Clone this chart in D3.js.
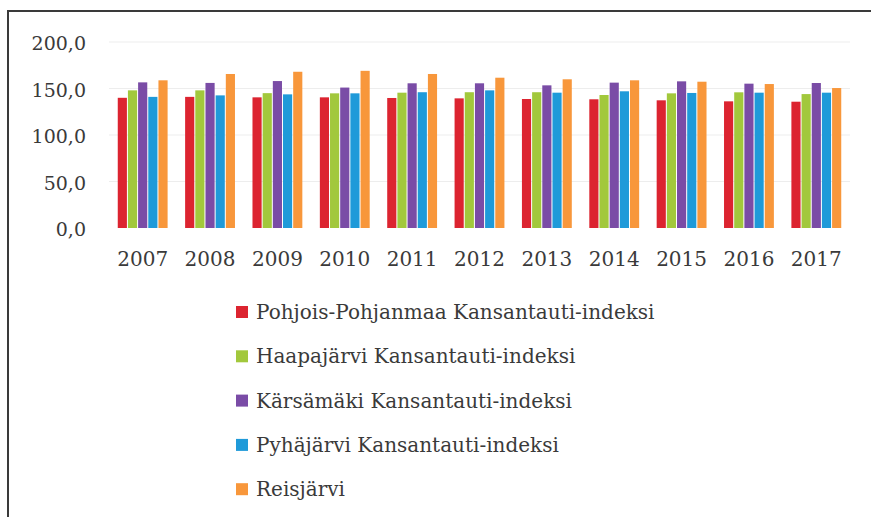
<!DOCTYPE html>
<html>
<head>
<meta charset="utf-8">
<script src="https://cdn.jsdelivr.net/npm/d3@7"></script>
<style>
  body { margin: 0; background: #fff; overflow: hidden; }
  svg { display: block; }
  text { font-family: "DejaVu Serif", "Liberation Serif", serif; fill: #3a3a3a; }
</style>
</head>
<body>
<svg class="chart" width="871" height="517"></svg>
<script>
const years = ["2007", "2008", "2009", "2010", "2011", "2012", "2013", "2014", "2015", "2016", "2017"]
const seriesNames = [
  "Pohjois-Pohjanmaa Kansantauti-indeksi",
  "Haapajärvi Kansantauti-indeksi",
  "Kärsämäki Kansantauti-indeksi",
  "Pyhäjärvi Kansantauti-indeksi",
  "Reisjärvi"
]
const pohjoisPohjanmaa = [140, 141, 140.5, 140.5, 139.8, 139.4, 138.7, 138.4, 137.3, 136.2, 135.8]
const haapajarvi = [148, 148, 145, 144.8, 145.5, 146, 146, 143, 144.8, 145.9, 144]
const karsamaki = [156.6, 156, 158, 151, 155.6, 155.6, 153.4, 156.3, 157.7, 155.2, 155.9]
const pyhajarvi = [141, 142.6, 143.7, 144.8, 146, 148, 145.5, 147, 145.2, 145.5, 145.5]
const reisjarvi = [158.8, 165.6, 168, 169, 165.6, 161.6, 159.9, 158.8, 157.3, 154.8, 150.5]
const yTicks = [0, 50, 100, 150, 200]

const colors = ["#dc2430", "#a2c83c", "#7a4ca6", "#1f9ad9", "#f8973b"]
const allSeries = [pohjoisPohjanmaa, haapajarvi, karsamaki, pyhajarvi, reisjarvi]

const svg = d3.select("svg.chart")

// frame (only top and left edge are in the picture)
svg.append("line")
  .attr("x1", 8).attr("y1", 11).attr("x2", 871).attr("y2", 11)
  .attr("stroke", "#3a3a3a").attr("stroke-width", 2)
svg.append("line")
  .attr("x1", 8).attr("y1", 10).attr("x2", 8).attr("y2", 517)
  .attr("stroke", "#3a3a3a").attr("stroke-width", 2)

const x0 = d3.scaleBand().domain(years).range([109, 850]).paddingInner(0.26).paddingOuter(0.13)
const x1 = d3.scaleBand().domain(d3.range(seriesNames.length)).range([0, x0.bandwidth()]).paddingInner(0.1)
const y = d3.scaleLinear().domain([0, 200]).range([228, 42])

// gridlines
svg.append("g")
  .selectAll("line")
  .data(yTicks.slice(1))
  .enter()
  .append("line")
  .attr("x1", 109)
  .attr("x2", 850)
  .attr("y1", d => y(d))
  .attr("y2", d => y(d))
  .attr("stroke", "#ededed")
  .attr("stroke-width", 1)

// y labels
svg.append("g")
  .selectAll("text")
  .data(yTicks)
  .enter()
  .append("text")
  .attr("x", 86)
  .attr("y", d => y(d) + 8)
  .attr("text-anchor", "end")
  .attr("font-size", 19)
  .text(d => d.toFixed(1).replace(".", ","))

// bars
const groups = svg.append("g")
  .selectAll("g")
  .data(years)
  .enter()
  .append("g")
  .attr("transform", d => `translate(${x0(d)},0)`)

groups.selectAll("rect")
  .data((d, i) => allSeries.map((s, k) => ({ k: k, v: s[i] })))
  .enter()
  .append("rect")
  .attr("x", d => x1(d.k))
  .attr("width", x1.bandwidth())
  .attr("y", d => y(d.v))
  .attr("height", d => y(0) - y(d.v))
  .attr("fill", d => colors[d.k])

// year labels
svg.append("g")
  .selectAll("text")
  .data(years)
  .enter()
  .append("text")
  .attr("x", d => x0(d) + x0.bandwidth() / 2)
  .attr("y", 266)
  .attr("text-anchor", "middle")
  .attr("font-size", 20)
  .text(d => d)

// legend
const legend = svg.append("g")
  .selectAll("g")
  .data(seriesNames)
  .enter()
  .append("g")
  .attr("transform", (d, i) => `translate(236, ${312 + i * 44.3})`)

legend.append("rect")
  .attr("x", 0)
  .attr("y", -6)
  .attr("width", 12)
  .attr("height", 12)
  .attr("fill", (d, i) => colors[i])

legend.append("text")
  .attr("x", 20)
  .attr("y", 7)
  .attr("font-size", 20)
  .text(d => d)
</script>
</body>
</html>
